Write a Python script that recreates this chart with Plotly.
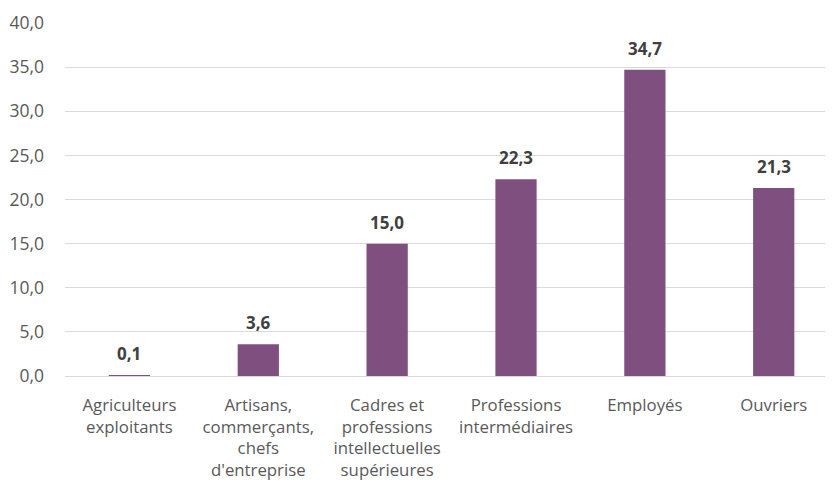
import plotly.graph_objects as go

categories = [
    "Agriculteurs<br>exploitants",
    "Artisans,<br>commerçants,<br>chefs<br>d'entreprise",
    "Cadres et<br>professions<br>intellectuelles<br>supérieures",
    "Professions<br>intermédiaires",
    "Employés",
    "Ouvriers",
]
values = [0.1, 3.6, 15.0, 22.3, 34.7, 21.3]
labels = [f"{v:.1f}".replace(".", ",") for v in values]

xs = list(range(len(categories)))

FONT = "Open Sans"

fig = go.Figure(go.Bar(
    x=xs,
    y=values,
    marker=dict(color="#7F4F7F", line=dict(width=0)),
    width=0.32,
))

for x, v, t in zip(xs, values, labels):
    fig.add_annotation(
        x=x, y=v, text=t, showarrow=False, yanchor="bottom", yshift=8,
        font=dict(family=FONT, size=17, color="#404040", weight="bold"),
    )

# page body has an 8px default margin; compensate so the plot lands where the reference has it
fig.update_layout(
    width=825, height=478,
    margin=dict(l=57, r=0, t=15, b=110),
    paper_bgcolor="white", plot_bgcolor="white",
    separators=", ",
    showlegend=False,
    font=dict(family=FONT, size=16.7, color="#595959"),
)
fig.update_xaxes(
    tickmode="array", tickvals=xs, ticktext=categories,
    range=[-0.5, 5.46], showgrid=False, zeroline=False, showline=False,
    ticks="", automargin=False, ticklabelstandoff=17,
    tickfont=dict(family=FONT, size=16.8, color="#595959"),
)
fig.update_yaxes(
    range=[0, 40], dtick=5, tickformat=".1f",
    showgrid=True, gridcolor="#D9D9D9", gridwidth=1,
    zeroline=True, zerolinecolor="#D9D9D9", zerolinewidth=1,
    showline=False, ticks="", ticklabelstandoff=20, automargin=False,
    tickfont=dict(family=FONT, size=17.5, color="#595959"),
)
fig.write_html("out.html")
